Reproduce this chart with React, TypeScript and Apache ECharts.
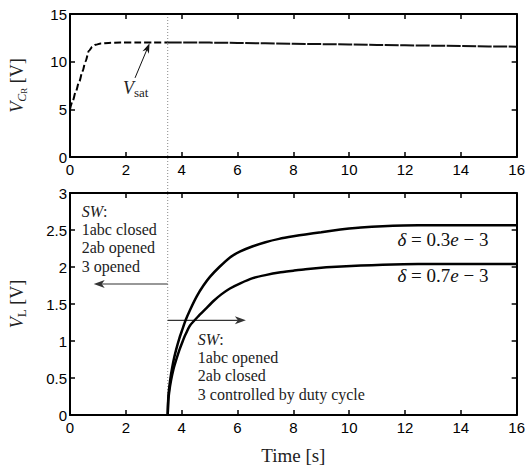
import React, { useEffect, useRef } from "react";
import * as echarts from "echarts";

// ---- Data ----
const timeVcr = [0, 0.1, 0.2, 0.33, 0.45, 0.55, 0.68, 0.8, 0.92, 1.1, 1.38, 1.8, 2.5, 3.0, 3.5, 4, 5, 6, 7, 8, 9, 10, 11, 12, 13, 14, 15, 16];
const vcrValues = [5, 5.9, 6.8, 7.9, 9.0, 10.0, 11.15, 11.55, 11.78, 11.9, 11.97, 12.0, 12.0, 12.0, 12.02, 12.02, 12.0, 11.96, 11.92, 11.88, 11.84, 11.8, 11.76, 11.72, 11.68, 11.64, 11.6, 11.57];

const timeUpper = [3.5, 3.52, 3.56, 3.62, 3.7, 3.8, 3.92, 4.02, 4.14, 4.3, 4.55, 4.78, 5.02, 5.35, 5.73, 6.1, 6.55, 7.0, 7.49, 8.0, 8.43, 9.0, 9.37, 10.0, 10.42, 11.2, 11.94, 13, 14, 15, 16];
const vlUpper = [0, 0.226, 0.39, 0.55, 0.72, 0.88, 1.04, 1.15, 1.28, 1.42, 1.61, 1.75, 1.87, 2.0, 2.13, 2.21, 2.28, 2.335, 2.38, 2.415, 2.44, 2.47, 2.49, 2.52, 2.535, 2.552, 2.56, 2.565, 2.565, 2.565, 2.565];

const timeLower = [3.5, 3.52, 3.56, 3.62, 3.7, 3.8, 3.92, 4.02, 4.14, 4.3, 4.61, 4.85, 5.14, 5.42, 5.73, 6.1, 6.55, 7.0, 7.49, 8.0, 8.43, 9.0, 9.37, 10.42, 11.2, 11.94, 13, 14, 15, 16];
const vlLower = [0, 0.19, 0.33, 0.47, 0.61, 0.74, 0.88, 0.98, 1.09, 1.21, 1.34, 1.43, 1.54, 1.63, 1.71, 1.78, 1.85, 1.89, 1.925, 1.95, 1.97, 1.99, 2.0, 2.02, 2.03, 2.037, 2.04, 2.04, 2.04, 2.04];

const X_MIN = 0, X_MAX = 16, X_STEP = 2;
const TOP_Y_MIN = 0, TOP_Y_MAX = 15, TOP_Y_STEP = 5;
const BOT_Y_MIN = 0, BOT_Y_MAX = 3, BOT_Y_STEP = 0.5;

const switchTime = 3.5;
const deltaLabels = ["0.3", "0.7"];

// annotation anchors in data units
const leftArrow = { y: 1.77, tipX: 0.85 };
const rightArrow = { y: 1.28, tipX: 6.3 };
const leftBlock = { x: 0.42, y: 2.877 };
const rightBlock = { x: 4.58, y: 1.146 };
const deltaPos = [{ x: 11.73, y: 2.37 }, { x: 11.73, y: 1.88 }];
const vsatText = { x: 1.9, y: 7.25 };
const vsatArrow = { x0: 2.33, y0: 8.3, x1: 2.85, y1: 11.93 };

const SANS = '"Liberation Sans", Arial, sans-serif';
const SERIF = '"Liberation Serif", "Times New Roman", serif';

function pairs(t: number[], v: number[]) {
  return t.map((x, i) => [x, v[i]]);
}

function axisBase(extra: any) {
  return {
    type: "value",
    axisLine: { show: true, onZero: false, lineStyle: { color: "#000", width: 2 } },
    axisTick: { show: true, inside: true, length: 5, lineStyle: { color: "#000", width: 1.5 } },
    axisLabel: { show: true, color: "#000", fontFamily: SANS, fontSize: 15 },
    splitLine: { show: false },
    ...extra,
  };
}

function arrowHead(tip: number[], from: number[], color: string, len = 11, half = 4, notch = 3) {
  const dx = tip[0] - from[0];
  const dy = tip[1] - from[1];
  const L = Math.hypot(dx, dy) || 1;
  const ux = dx / L, uy = dy / L;
  const nx = -uy, ny = ux;
  const bx = tip[0] - ux * len, by = tip[1] - uy * len;
  const pts = [
    [tip[0], tip[1]],
    [bx + nx * half, by + ny * half],
    [tip[0] - ux * (len - notch), tip[1] - uy * (len - notch)],
    [bx - nx * half, by - ny * half],
  ];
  return {
    head: { type: "polygon", shape: { points: pts }, style: { fill: color }, silent: true },
    lineEnd: [tip[0] - ux * (len - notch), tip[1] - uy * (len - notch)],
  };
}

export default function App() {
  const ref = useRef<HTMLDivElement>(null);

  useEffect(() => {
    if (!ref.current) return;
    const chart = echarts.init(ref.current, null, { renderer: "svg" });

    const vcrPairs = pairs(timeVcr, vcrValues);
    const vcrA = vcrPairs.filter((d) => d[0] <= switchTime);
    const vcrB = vcrPairs.filter((d) => d[0] >= switchTime);

    const nameRich = {
      v: { fontFamily: SERIF, fontStyle: "italic", fontSize: 18, lineHeight: 22, color: "#222" },
      c: { fontFamily: SERIF, fontStyle: "italic", fontSize: 12, lineHeight: 10, verticalAlign: "bottom", color: "#222" },
      r: { fontFamily: SERIF, fontSize: 9, lineHeight: 4, verticalAlign: "bottom", color: "#222" },
      l: { fontFamily: SERIF, fontSize: 13, lineHeight: 10, verticalAlign: "bottom", color: "#222" },
      t: { fontFamily: SERIF, fontSize: 18, lineHeight: 22, color: "#222" },
    };

    const option: any = {
      animation: false,
      backgroundColor: "#fff",
      grid: [
        { left: 64, top: 14, width: 455, height: 143, containLabel: false },
        { left: 64, top: 193, width: 455, height: 231, containLabel: false },
      ],
      xAxis: [
        axisBase({ gridIndex: 0, min: X_MIN, max: X_MAX, interval: X_STEP, position: "bottom", axisLabel: { show: true, color: "#000", fontFamily: SANS, fontSize: 15, margin: 5 } }),
        axisBase({
          gridIndex: 1, min: X_MIN, max: X_MAX, interval: X_STEP, position: "bottom",
          axisLabel: { show: true, color: "#000", fontFamily: SANS, fontSize: 15, margin: 5 },
          name: "Time [s]", nameLocation: "middle", nameGap: 31,
          nameTextStyle: { fontFamily: SERIF, fontSize: 19, color: "#222" },
        }),
        axisBase({ gridIndex: 0, min: X_MIN, max: X_MAX, interval: X_STEP, position: "top", axisLabel: { show: false } }),
        axisBase({ gridIndex: 1, min: X_MIN, max: X_MAX, interval: X_STEP, position: "top", axisLabel: { show: false } }),
      ],
      yAxis: [
        axisBase({
          gridIndex: 0, min: TOP_Y_MIN, max: TOP_Y_MAX, interval: TOP_Y_STEP, position: "left",
          axisLabel: { show: true, color: "#000", fontFamily: SANS, fontSize: 15, margin: 3 },
          name: "{v|V}{c|C}{r|R}{t| [V]}", nameLocation: "middle", nameGap: 42, nameRotate: 90,
          nameTextStyle: { rich: nameRich },
        }),
        axisBase({
          gridIndex: 1, min: BOT_Y_MIN, max: BOT_Y_MAX, interval: BOT_Y_STEP, position: "left",
          axisLabel: { show: true, color: "#000", fontFamily: SANS, fontSize: 15, margin: 3 },
          name: "{v|V}{l|L}{t| [V]}", nameLocation: "middle", nameGap: 42, nameRotate: 90,
          nameTextStyle: { rich: nameRich },
        }),
        axisBase({ gridIndex: 0, min: TOP_Y_MIN, max: TOP_Y_MAX, interval: TOP_Y_STEP, position: "right", axisLabel: { show: false } }),
        axisBase({ gridIndex: 1, min: BOT_Y_MIN, max: BOT_Y_MAX, interval: BOT_Y_STEP, position: "right", axisLabel: { show: false } }),
      ],
      series: [
        {
          type: "line", xAxisIndex: 0, yAxisIndex: 0, data: vcrA, showSymbol: false, symbol: "none",
          smooth: 0.3, smoothMonotone: "x",
          lineStyle: { color: "#000", width: 2, type: [7, 3] },
        },
        {
          type: "line", xAxisIndex: 0, yAxisIndex: 0, data: vcrB, showSymbol: false, symbol: "none",
          lineStyle: { color: "#111", width: 2, type: [14, 1.5] },
        },
        {
          type: "line", xAxisIndex: 1, yAxisIndex: 1, data: pairs(timeUpper, vlUpper), showSymbol: false, symbol: "none",
          smooth: 0.2,
          lineStyle: { color: "#000", width: 2.5 },
        },
        {
          type: "line", xAxisIndex: 1, yAxisIndex: 1, data: pairs(timeLower, vlLower), showSymbol: false, symbol: "none",
          smooth: 0.2,
          lineStyle: { color: "#000", width: 2.5 },
        },
      ],
    };

    chart.setOption(option);

    const p = (si: number, x: number, y: number) =>
      chart.convertToPixel({ seriesIndex: si }, [x, y]) as number[];

    const grey = "#333";
    const topP = p(0, switchTime, TOP_Y_MAX);
    const botP = p(2, switchTime, BOT_Y_MIN);

    const la0 = p(2, switchTime, leftArrow.y);
    const la1 = p(2, leftArrow.tipX, leftArrow.y);
    const laH = arrowHead(la1, la0, grey);
    const ra0 = p(2, switchTime, rightArrow.y);
    const ra1 = p(2, rightArrow.tipX, rightArrow.y);
    const raH = arrowHead(ra1, ra0, grey);

    const vs0 = p(0, vsatArrow.x0, vsatArrow.y0);
    const vs1 = p(0, vsatArrow.x1, vsatArrow.y1);
    const vsH = arrowHead(vs1, vs0, "#111", 10, 3.5, 3);
    const vsT = p(0, vsatText.x, vsatText.y);

    const lb = p(2, leftBlock.x, leftBlock.y);
    const rb = p(2, rightBlock.x, rightBlock.y);

    const blockStyle = (text: string) => ({
      text,
      fontFamily: SERIF,
      fontSize: 16,
      lineHeight: 18.3,
      fill: "#222",
      align: "left",
      verticalAlign: "top",
      rich: {
        it: { fontFamily: SERIF, fontSize: 16, fontStyle: "italic", lineHeight: 18.3, fill: "#222" },
      },
    });

    const graphic: any[] = [
      {
        type: "line", silent: true,
        shape: { x1: topP[0], y1: topP[1], x2: botP[0], y2: botP[1] },
        style: { stroke: "#888", lineWidth: 1, lineDash: [1, 2] },
      },
      { type: "line", silent: true, shape: { x1: la0[0], y1: la0[1], x2: laH.lineEnd[0], y2: laH.lineEnd[1] }, style: { stroke: grey, lineWidth: 1.2 } },
      laH.head,
      { type: "line", silent: true, shape: { x1: ra0[0], y1: ra0[1], x2: raH.lineEnd[0], y2: raH.lineEnd[1] }, style: { stroke: grey, lineWidth: 1.2 } },
      raH.head,
      { type: "line", silent: true, shape: { x1: vs0[0], y1: vs0[1], x2: vsH.lineEnd[0], y2: vsH.lineEnd[1] }, style: { stroke: "#111", lineWidth: 1 } },
      vsH.head,
      {
        type: "text", silent: true, x: vsT[0], y: vsT[1],
        style: {
          text: "{v|V}{s|sat}",
          align: "left", verticalAlign: "middle",
          rich: {
            v: { fontFamily: SERIF, fontStyle: "italic", fontSize: 18, lineHeight: 22, fill: "#222" },
            s: { fontFamily: SERIF, fontSize: 13, lineHeight: 10, verticalAlign: "bottom", fill: "#222" },
          },
        },
      },
      { type: "text", silent: true, x: lb[0], y: lb[1], style: blockStyle("{it|SW}:\n1abc closed\n2ab opened\n3 opened") },
      { type: "text", silent: true, x: rb[0], y: rb[1], style: blockStyle("{it|SW}:\n1abc opened\n2ab closed\n3 controlled by duty cycle") },
    ];

    deltaLabels.forEach((d, i) => {
      const pt = p(2, deltaPos[i].x, deltaPos[i].y);
      graphic.push({
        type: "text", silent: true, x: pt[0], y: pt[1],
        style: {
          text: "{i|δ}{n| = " + d + "}{i|e}{n| − 3}",
          align: "left", verticalAlign: "middle",
          rich: {
            i: { fontFamily: SERIF, fontStyle: "italic", fontSize: 19, fill: "#111" },
            n: { fontFamily: SERIF, fontSize: 19, fill: "#111" },
          },
        },
      });
    });

    chart.setOption({ graphic });

    return () => chart.dispose();
  }, []);

  return (
    <div
      ref={ref}
      style={{ position: "fixed", left: 0, top: 0, width: 528, height: 466, background: "#fff" }}
    />
  );
}
